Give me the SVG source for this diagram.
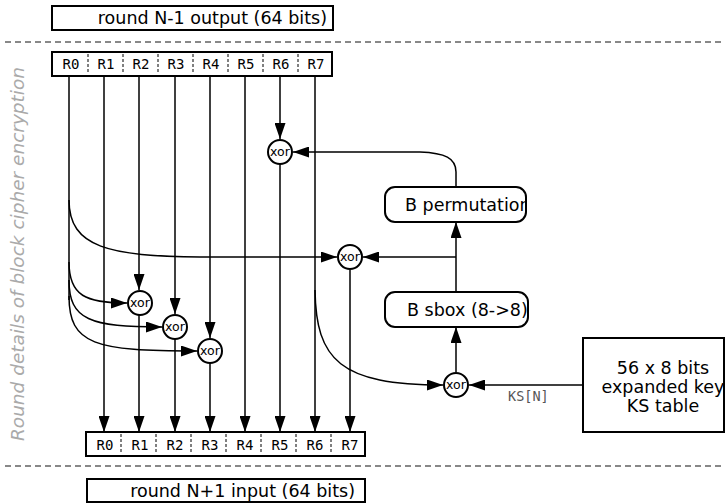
<svg xmlns="http://www.w3.org/2000/svg" width="725" height="504" viewBox="0 0 725 504">
  <style>
    .box { fill: #fff; stroke: #000; stroke-width: 2; }
    .reg { fill: #fff; stroke: #000; stroke-width: 2; }
    .div { stroke: #000; stroke-width: 1; stroke-dasharray: 3,2; }
    .sep { stroke: #888; stroke-width: 2; stroke-dasharray: 6,4; fill: none; }
    .wire { stroke: #000; stroke-width: 1.5; fill: none; }
    .arr { marker-end: url(#head); }
    .xor circle { fill: #fff; stroke: #000; stroke-width: 2; }
    .xor text { font-family: "DejaVu Sans", sans-serif; font-size: 12.5px; text-anchor: middle; fill: #000; }
    .rl { font-family: "DejaVu Sans Mono", monospace; font-size: 14px; text-anchor: middle; fill: #000; }
    .lbl { font-family: "DejaVu Sans", sans-serif; font-size: 17.5px; fill: #000; }
  </style>
  <defs>
    <marker id="head" markerUnits="userSpaceOnUse" markerWidth="16" markerHeight="11" refX="16" refY="5.5" orient="auto">
      <path d="M0,0 L16,5.5 L0,11 z" fill="#000"/>
    </marker>
    <clipPath id="clipPerm"><rect x="386" y="188" width="139" height="33" rx="10"/></clipPath>
    <clipPath id="clipSbox"><rect x="386" y="293" width="141" height="33" rx="10"/></clipPath>
  </defs>

  <!-- round separators -->
  <line class="sep" x1="5" y1="42" x2="725" y2="42"/>
  <line class="sep" x1="5" y1="466" x2="725" y2="466"/>

  <!-- side caption -->
  <text transform="translate(24,254) rotate(-90)" font-family="DejaVu Sans, sans-serif" font-style="italic" font-size="18.5" fill="#aaa" text-anchor="middle">Round details of block cipher encryption</text>

  <g id="prev-output">
    <rect class="box" x="52" y="6" width="281" height="24"/>
    <text class="lbl" x="327" y="24" text-anchor="end">round N-1 output (64 bits)</text>
  </g>

  <g id="next-input">
    <rect class="box" x="87" y="479" width="278" height="23"/>
    <text class="lbl" x="355" y="497" text-anchor="end">round N+1 input (64 bits)</text>
  </g>

  <!-- connectors -->
  <g id="connectors">
    <!-- straight wires, top register to bottom register -->
    <path class="wire arr" d="M104,76 L104,432"/>
    <path class="wire arr" d="M139,76 L139,290"/>
    <path class="wire arr" d="M139,315 L139,432"/>
    <path class="wire arr" d="M175,76 L175,314"/>
    <path class="wire arr" d="M175,339 L175,432"/>
    <path class="wire arr" d="M210,76 L210,338"/>
    <path class="wire arr" d="M210,363 L210,432"/>
    <path class="wire arr" d="M245,76 L245,432"/>
    <path class="wire arr" d="M280,76 L280,139"/>
    <path class="wire arr" d="M280,164 L280,432"/>
    <path class="wire arr" d="M315,76 L315,432"/>
    <path class="wire arr" d="M350,270 L350,432"/>

    <!-- R0 fan-out -->
    <path class="wire" d="M69,76 L69,300"/>
    <path class="wire arr" d="M69,200 C69,248 110,256 200,257 L337,257"/>
    <path class="wire arr" d="M69,262 C69,296 86,303 127,303"/>
    <path class="wire arr" d="M69,280 C69,320 90,327 162,327"/>
    <path class="wire arr" d="M69,296 C69,345 95,351 197,351"/>

    <!-- R7 into key mixing -->
    <path class="wire arr" d="M315,290 C316,360 340,385 443,385"/>

    <!-- key schedule input -->
    <path class="wire arr" d="M583,385 L469,385"/>

    <!-- f-function path -->
    <path class="wire arr" d="M456,372 L456,327"/>
    <path class="wire arr" d="M456,292 L456,222"/>
    <path class="wire arr" d="M456,257 L363,257"/>
    <path class="wire arr" d="M456,187 L456,172 C456,158 445,153 420,152 L293,152"/>
  </g>

  <text x="508" y="401" font-family="DejaVu Sans Mono, monospace" font-size="13.5" fill="#555">KS[N]</text>

  <g id="reg-top">
    <rect class="reg" x="52" y="52" width="280" height="24"/>
    <line class="div" x1="88" y1="54" x2="88" y2="74"/>
    <line class="div" x1="123" y1="54" x2="123" y2="74"/>
    <line class="div" x1="158" y1="54" x2="158" y2="74"/>
    <line class="div" x1="193" y1="54" x2="193" y2="74"/>
    <line class="div" x1="228" y1="54" x2="228" y2="74"/>
    <line class="div" x1="263" y1="54" x2="263" y2="74"/>
    <line class="div" x1="298" y1="54" x2="298" y2="74"/>
    <text class="rl" x="71" y="69">R0</text>
    <text class="rl" x="106" y="69">R1</text>
    <text class="rl" x="141" y="69">R2</text>
    <text class="rl" x="176" y="69">R3</text>
    <text class="rl" x="211" y="69">R4</text>
    <text class="rl" x="246" y="69">R5</text>
    <text class="rl" x="281" y="69">R6</text>
    <text class="rl" x="316" y="69">R7</text>
  </g>

  <g id="reg-bottom">
    <rect class="reg" x="86" y="432" width="279" height="24"/>
    <line class="div" x1="121" y1="434" x2="121" y2="454"/>
    <line class="div" x1="156" y1="434" x2="156" y2="454"/>
    <line class="div" x1="191" y1="434" x2="191" y2="454"/>
    <line class="div" x1="226" y1="434" x2="226" y2="454"/>
    <line class="div" x1="261" y1="434" x2="261" y2="454"/>
    <line class="div" x1="296" y1="434" x2="296" y2="454"/>
    <line class="div" x1="331" y1="434" x2="331" y2="454"/>
    <text class="rl" x="105" y="450">R0</text>
    <text class="rl" x="140" y="450">R1</text>
    <text class="rl" x="175" y="450">R2</text>
    <text class="rl" x="210" y="450">R3</text>
    <text class="rl" x="245" y="450">R4</text>
    <text class="rl" x="280" y="450">R5</text>
    <text class="rl" x="315" y="450">R6</text>
    <text class="rl" x="350" y="450">R7</text>
  </g>

  <g id="xor-r6" class="xor"><circle cx="280" cy="152" r="12"/><text x="280" y="156">xor</text></g>
  <g id="xor-r7" class="xor"><circle cx="350" cy="257" r="12"/><text x="350" y="261">xor</text></g>
  <g id="xor-r1" class="xor"><circle cx="140" cy="303" r="12"/><text x="140" y="307">xor</text></g>
  <g id="xor-r2" class="xor"><circle cx="175" cy="327" r="12"/><text x="175" y="331">xor</text></g>
  <g id="xor-r3" class="xor"><circle cx="210" cy="351" r="12"/><text x="210" y="355">xor</text></g>
  <g id="xor-key" class="xor"><circle cx="456" cy="385" r="12"/><text x="456" y="389">xor</text></g>

  <g id="perm">
    <rect class="box" x="385" y="187" width="141" height="35" rx="10"/>
    <text class="lbl" x="405" y="211" clip-path="url(#clipPerm)">B permutation</text>
  </g>

  <g id="sbox">
    <rect class="box" x="385" y="292" width="143" height="35" rx="10"/>
    <text class="lbl" x="407" y="316" clip-path="url(#clipSbox)">B sbox (8-&gt;8)</text>
  </g>

  <g id="ks-table">
    <rect class="box" x="583" y="338" width="141" height="94"/>
    <text class="lbl" x="663" y="374" text-anchor="middle">56 x 8 bits</text>
    <text class="lbl" x="663" y="393" text-anchor="middle">expanded key</text>
    <text class="lbl" x="663" y="412" text-anchor="middle">KS table</text>
  </g>
</svg>
